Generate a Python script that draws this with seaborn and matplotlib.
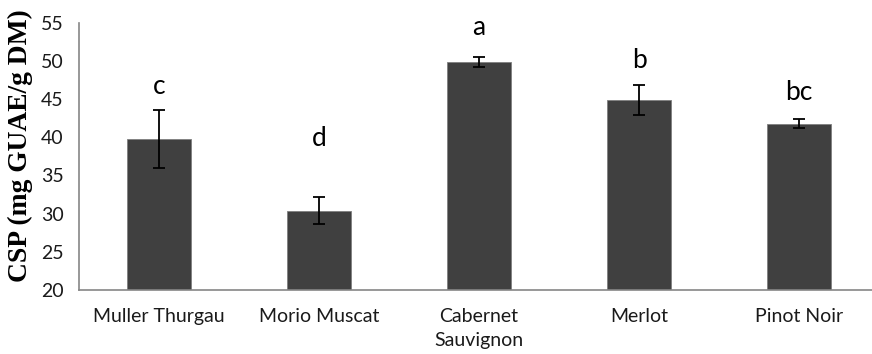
import numpy as np
import pandas as pd
import matplotlib
matplotlib.use("Agg")
import matplotlib.pyplot as plt
import seaborn as sns

categories = ["Muller Thurgau", "Morio Muscat", "Cabernet\nSauvignon", "Merlot", "Pinot Noir"]
means = [39.8, 30.4, 49.9, 44.9, 41.8]
errors = [3.8, 1.75, 0.65, 1.95, 0.55]
letters = ["c", "d", "a", "b", "bc"]
letter_y = [46.6, 39.9, 54.4, 50.1, 45.9]
yticks = [20, 25, 30, 35, 40, 45, 50, 55]

sns.set_theme(style="white")
plt.rcParams['font.family'] = ['Lato', 'DejaVu Sans']

df = pd.DataFrame({"cat": categories, "val": means})

fig = plt.figure(figsize=(8.72, 3.54), dpi=100)
ax = fig.add_axes([79/872, 64/354, 800/872, 267.3/354])

sns.barplot(data=df, x="cat", y="val", color="#404040", saturation=1,
            width=0.4, errorbar=None, edgecolor="#7f7f7f", linewidth=0.6, ax=ax)
pos = np.arange(len(categories))
ax.errorbar(pos, means, yerr=errors, fmt="none", ecolor="black",
            elinewidth=1.3, capsize=4.5, capthick=1.3, zorder=5)
for p, lt, ly in zip(pos, letters, letter_y):
    ax.text(p, ly, lt, ha="center", va="center", fontsize=19, color="black")

ax.set_xlim(-0.5, len(categories) - 0.5)
ax.set_ylim(20, 55)
ax.set_yticks(yticks)
ax.set_yticklabels([str(t) for t in yticks], fontsize=14, color="#1a1a1a")
ax.tick_params(axis="y", length=0, pad=11)
ax.tick_params(axis="x", length=0, pad=13, labelsize=14, labelcolor="#1a1a1a")
for t in ax.get_xticklabels():
    t.set_linespacing(1.5)
ax.set_xlabel("")
ax.set_ylabel("CSP (mg GUAE/g DM)", fontsize=19.8, fontweight="bold",
              family="Liberation Serif", color="black")
ax.yaxis.set_label_coords(-46/800, (290 - 146) / 267.3)

for s in ["top", "right"]:
    ax.spines[s].set_visible(False)
for s in ["left", "bottom"]:
    ax.spines[s].set_color("#868686")
    ax.spines[s].set_linewidth(1.2)

fig.savefig("out.png", dpi=100)
